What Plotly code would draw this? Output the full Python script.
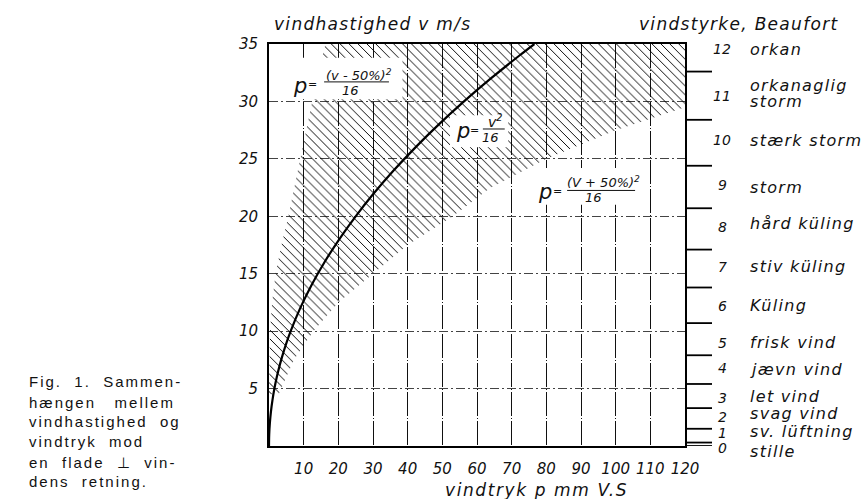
import plotly.graph_objects as go

# ---------------- data ----------------
curve_v = [0, 1, 2, 3, 4, 5, 6, 7, 8, 9, 10, 12, 14, 16, 18, 20, 22, 24, 26, 28, 30, 32, 34, 35]
curve_p = [0, 0.06, 0.25, 0.56, 1.0, 1.56, 2.25, 3.06, 4.0, 5.06, 6.25, 9.0, 12.25, 16.0,
           20.25, 25.0, 30.25, 36.0, 42.25, 49.0, 56.25, 64.0, 72.25, 76.56]

hatch_left_v = [4.5, 7, 10, 12.5, 15, 17.5, 20, 22.5, 25, 27.5, 30, 32.5, 35]
hatch_left_p = [0.0, 0.1, 0.3, 0.9, 1.9, 3.6, 5.6, 7.3, 9.0, 10.7, 12.3, 14.2, 16.3]
hatch_right_v = [4.5, 7.5, 10, 12.5, 15, 17.5, 20, 22.5, 25, 27.5, 29.5, 35]
hatch_right_p = [2.8, 7.2, 12.8, 20.0, 30.0, 40.0, 53.0, 64.0, 80.0, 100.0, 120.0, 120.0]

x_ticks = [10, 20, 30, 40, 50, 60, 70, 80, 90, 100, 110, 120]
y_ticks = [5, 10, 15, 20, 25, 30, 35]

beaufort_bounds = [0, 0.3, 1.5, 3.3, 5.4, 7.9, 10.7, 13.8, 17.1, 20.7, 24.4, 28.4, 32.6]
beaufort_numbers = ["0", "1", "2", "3", "4", "5", "6", "7", "8", "9", "10", "11", "12"]
beaufort_num_v = [-0.15, 1.15, 2.55, 4.2, 6.8, 9.0, 12.2, 15.6, 19.1, 22.7, 26.6, 30.5, 34.6]
beaufort_name_lines = ["stille", "sv. lüftning", "svag vind", "let vind", "jævn vind",
                       "frisk vind", "Küling", "stiv küling", "hård küling", "storm",
                       "stærk storm", "orkanaglig", "storm", "orkan"]
beaufort_name_v = [-0.5, 1.3, 2.8, 4.3, 6.7, 9.0, 12.2, 15.6, 19.4, 22.5, 26.6, 31.35, 30.0, 34.5]

caption_lines = ["Fig.&nbsp; 1.&nbsp; Sammen-", "hængen&nbsp;&nbsp; mellem", "vindhastighed&nbsp; og",
                 "vindtryk&nbsp; mod", "en&nbsp; flade&nbsp; ⊥&nbsp; vin-", "dens&nbsp; retning."]

# ---------------- layout constants ----------------
W, H = 868, 499
ML, MR, MT, MB = 269, 0, 44, 53
PW = W - ML - MR
PH = H - MT - MB
X_END = 685
dom = (X_END - ML) / PW
V_MAX = 35

HAND = "DejaVu Sans"
INK = "#111111"


def px(x):
    return (x - ML) / PW


def py(y):
    return 1 - (y - MT) / PH


def ls(t, s):
    return '<span style="letter-spacing:%spx">%s</span>' % (s, t)


fig = go.Figure()

# hatched band
fig.add_trace(go.Scatter(
    x=hatch_left_p + hatch_right_p[::-1],
    y=hatch_left_v + hatch_right_v[::-1],
    mode="lines", line=dict(width=0, color="rgba(0,0,0,0)"),
    fill="toself", fillcolor="rgba(255,255,255,0)",
    fillpattern=dict(shape="\\", fgcolor="#000", fgopacity=1, bgcolor="rgba(255,255,255,0)",
                     size=6.3, solidity=0.15, fillmode="overlay"),
    hoverinfo="skip", showlegend=False, xaxis="x", yaxis="y"))

# main curve p = v^2/16
fig.add_trace(go.Scatter(x=curve_p, y=curve_v, mode="lines", line=dict(color="#000", width=2.2, shape="spline"),
                         showlegend=False, xaxis="x", yaxis="y"))

# Beaufort ticks
bx, by = [], []
for b in beaufort_bounds:
    bx += [0, 27, None]
    by += [b, b, None]
fig.add_trace(go.Scatter(x=bx, y=by, mode="lines", line=dict(color="#000", width=1.8),
                         showlegend=False, xaxis="x2", yaxis="y2", cliponaxis=False))

shapes = []
# white label boxes
for (x0, x1, y0, y1) in [(0.6, 38.5, 30.2, 33.8), (52.2, 69.0, 26.0, 28.8), (76.0, 107.0, 21.0, 24.2)]:
    shapes.append(dict(type="rect", xref="x", yref="y", x0=x0, x1=x1, y0=y0, y1=y1,
                       fillcolor="white", line=dict(width=0), layer="above"))
# fraction bars
for (x0, x1, y) in [(15.9, 34.6, 31.7), (61.7, 68.0, 27.6), (86.0, 105.6, 22.25)]:
    shapes.append(dict(type="line", xref="x", yref="y", x0=x0, x1=x1, y0=y, y1=y,
                       line=dict(color=INK, width=1), layer="above"))

annotations = []


def ann(x, y, text, size, xanchor="center", xref="x", yref="y", family=HAND, style="italic"):
    annotations.append(dict(x=x, y=y, xref=xref, yref=yref, text=text, showarrow=False,
                            xanchor=xanchor, yanchor="middle",
                            font=dict(family=family, size=size, color=INK, style=style)))


# Beaufort labels (y given in paper units of the shared velocity scale, so values below 0 still show)
for t, v in zip(beaufort_numbers, beaufort_num_v):
    ann(37, v / V_MAX, t, 14, "center", "x2", "paper")
for t, v in zip(beaufort_name_lines, beaufort_name_v):
    ann(63, v / V_MAX, ls(t, 1.3), 16, "left", "x2", "paper")

# formulas
for (pp, eq, vv) in [(8.9, 12.6, 31.35), (56.0, 59.4, 27.4), (79.6, 83.3, 22.1)]:
    ann(pp, vv, "p", 21)
    ann(eq, vv + 0.1, "=", 11)
ann(26.0, 32.3, "(v - 50%)<sup>2</sup>", 13)
ann(23.4, 30.95, "16", 13)
ann(65.4, 28.3, "v<sup>2</sup>", 14)
ann(63.9, 26.85, "16", 13)
ann(96.4, 22.95, "(V + 50%)<sup>2</sup>", 13)
ann(93.6, 21.6, "16", 13)

# titles
ann(px(272), py(24), ls("vindhastighed v m/s", 1.3), 17, "left", "paper", "paper")
ann(px(637), py(24), ls("vindstyrke, Beaufort", 1.3), 17, "left", "paper", "paper")
ann(px(443), py(490), ls("vindtryk p mm V.S", 1.6), 17, "left", "paper", "paper")

# caption
cap_y = [381, 402, 421, 441, 462, 481]
for t, yy in zip(caption_lines, cap_y):
    ann(px(27), py(yy), ls(t, 2.0), 15, "left", "paper", "paper", family="Liberation Sans", style="normal")

fig.update_layout(
    width=W, height=H,
    margin=dict(l=ML, r=MR, t=MT, b=MB, pad=0, autoexpand=False),
    paper_bgcolor="white", plot_bgcolor="white",
    shapes=shapes, annotations=annotations,
    xaxis=dict(domain=[0, dom], range=[0, 120], tickvals=x_ticks, ticktext=[str(t) for t in x_ticks],
               showgrid=True, gridcolor="#111", gridwidth=1.1, griddash="24px,2px,1px,2px",
               showline=True, linecolor="#000", linewidth=2, mirror=True, zeroline=False,
               ticks="", ticklabelstandoff=8, automargin=False,
               tickfont=dict(family=HAND, size=15, color=INK, style="italic")),
    yaxis=dict(range=[0, V_MAX], tickvals=y_ticks, ticktext=[str(t) for t in y_ticks],
               showgrid=True, gridcolor="#444", gridwidth=1, griddash="9px,3px,2px,3px",
               showline=True, linecolor="#000", linewidth=2, mirror=True, zeroline=False,
               ticks="", ticklabelstandoff=6, automargin=False,
               tickfont=dict(family=HAND, size=15, color=INK, style="italic")),
    xaxis2=dict(domain=[dom, 1], range=[0, W - X_END], visible=False, anchor="y2"),
    yaxis2=dict(range=[0, V_MAX], visible=False, anchor="x2"),
)

fig.write_html("out.html", config={"displayModeBar": False},
               post_script="document.body.style.margin='0px';")
